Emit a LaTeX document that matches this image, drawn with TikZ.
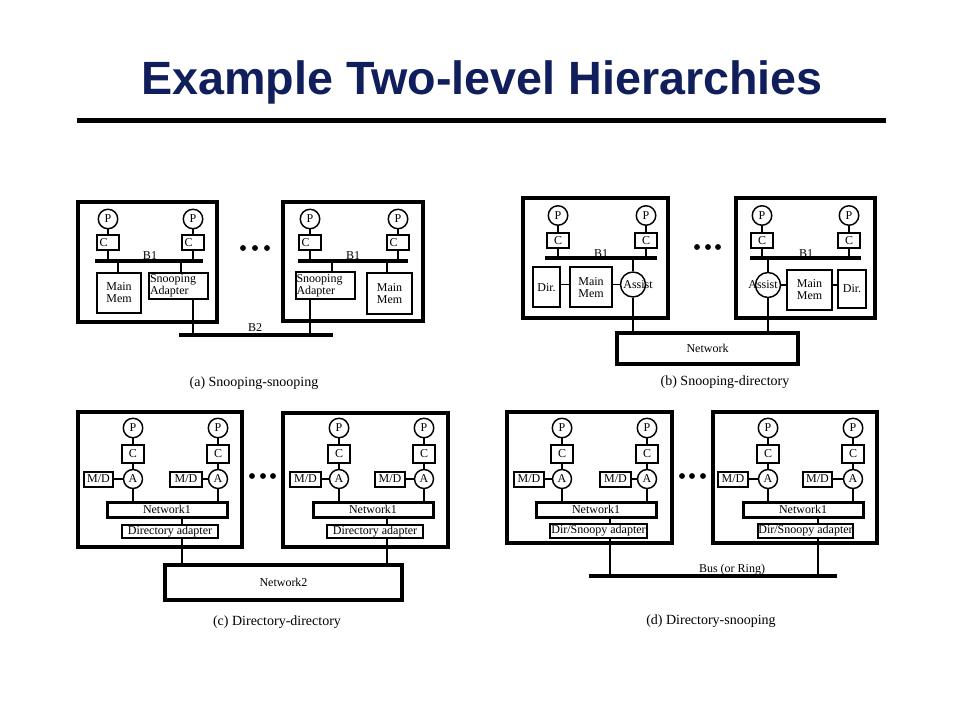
\documentclass[tikz,border=0pt]{standalone}
\usepackage{fontspec}
\setmainfont{Liberation Serif}
\newfontfamily\titlefont{Liberation Sans}
\usetikzlibrary{shapes.geometric}
\definecolor{titleblue}{RGB}{16,30,92}
\newcommand\px{*0.75pt}
\tikzset{
    module/.style={draw, line width=3pt},
    unit/.style={draw, line width=1.5pt},
    net/.style={draw, line width=2.6pt},
    netone/.style={draw, line width=2.25pt, minimum width=120\px, minimum height=15\px},
    proc/.style={circle, draw, line width=1.1pt, minimum size=19.5\px},
    cache/.style={unit, minimum width=22\px, minimum height=15\px},
    cachel/.style={cache, text width=17\px, align=left},
    agent/.style={circle, draw, line width=1.1pt, minimum size=19\px},
    assist/.style={circle, draw, line width=1.1pt, minimum size=25\px},
    wire/.style={line width=1.1pt},
    bus/.style={line width=3pt},
    caption/.style={anchor=base, font=\fontsize{10.5}{10.5}\selectfont}
}

\begin{document}
\begin{tikzpicture}[x=0.75pt, y=-0.75pt,
    every node/.style={inner sep=0pt, font=\fontsize{9}{9}\selectfont} ]
    \fill[white] (0,0) rectangle (960,720);
    \useasboundingbox (0,0) rectangle (960,720);

    \node[anchor=base, font=\titlefont\bfseries\fontsize{35}{35}\selectfont, text=titleblue] (title) at (482,95) {Example Two-level Hierarchies};
    \coordinate (ruleL) at (77,120.5);
    \coordinate (ruleR) at (886,120.5);
    \draw[line width=3.75pt] (ruleL) -- (ruleR);

    % (a)
    \node[module, minimum width=139\px, minimum height=120\px] (aL) at (147.5,262) {};
    \node[module, minimum width=140\px, minimum height=119\px] (aR) at (353,261.5) {};
    \coordinate (aLw) at (95,261);  \coordinate (aLe) at (203,261);
    \coordinate (aRw) at (298,261); \coordinate (aRe) at (408,261);
    \draw[bus] (aLw) -- (aLe);
    \draw[bus] (aRw) -- (aRe);
    \node[anchor=base] (aLb1) at (150,260) {B1};
    \node[anchor=base] (aRb1) at (353,260) {B1};
    \foreach \m/\xa/\xb in {aL/108/193, aR/310/398} {
        \node[proc] (\m p1) at (\xa,219) {P};
        \node[proc] (\m p2) at (\xb,219) {P};
        \node[cachel] (\m c1) at (\xa,243) {C};
        \node[cachel] (\m c2) at (\xb,243) {C};
        \draw[wire] (\m p1) -- (\m c1);
        \draw[wire] (\m p2) -- (\m c2);
        \draw[wire] (\m c1) -- (\m c1 |- \m w);
        \draw[wire] (\m c2) -- (\m c2 |- \m w);
    }
    \node[unit, minimum width=44\px, minimum height=40\px, align=center] (aLmem) at (119,293) {Main\\Mem};
    \node[unit, minimum width=59\px, minimum height=26\px, text width=57\px, align=left] (aLsnoop) at (178.5,286) {Snooping\\Adapter};
    \node[unit, minimum width=59\px, minimum height=27\px, text width=58\px, align=left] (aRsnoop) at (325.5,286) {Snooping\\Adapter};
    \node[unit, minimum width=45\px, minimum height=41\px, align=center] (aRmem) at (389.5,293.5) {Main\\Mem};
    \coordinate (aLt1) at (118,261); \coordinate (aLt2) at (181,261);
    \coordinate (aRt1) at (332,261); \coordinate (aRt2) at (387,261);
    \draw[wire] (aLt1) -- (aLt1 |- aLmem.north);
    \draw[wire] (aLt2) -- (aLt2 |- aLsnoop.north);
    \draw[wire] (aRt1) -- (aRt1 |- aRsnoop.north);
    \draw[wire] (aRt2) -- (aRt2 |- aRmem.north);
    \coordinate (aB2w) at (179,335); \coordinate (aB2e) at (333,335);
    \draw[line width=3.4pt] (aB2w) -- (aB2e);
    \draw[wire] (aLsnoop.south -| aLp2) -- (aLp2 |- aB2w);
    \draw[wire] (aRsnoop.south -| aRp1) -- (aRp1 |- aB2w);
    \node[anchor=base] (aB2) at (255,331) {B2};
    \foreach \x in {243,255,267} \fill (\x,248) circle (2.2pt);
    \node[caption] (capa) at (254,386) {(a) Snooping-snooping};

    % (b)
    \node[module, minimum width=145\px, minimum height=120\px] (bL) at (595.5,258) {};
    \node[module, minimum width=139\px, minimum height=120\px] (bR) at (805.5,258) {};
    \coordinate (bLw) at (545,258); \coordinate (bLe) at (657,258);
    \coordinate (bRw) at (750,258); \coordinate (bRe) at (861,258);
    \draw[bus] (bLw) -- (bLe);
    \draw[bus] (bRw) -- (bRe);
    \node[anchor=base] (bLb1) at (601,258) {B1};
    \node[anchor=base] (bRb1) at (806,258) {B1};
    \foreach \m/\xa/\xb in {bL/558/646, bR/762/849} {
        \node[proc] (\m p1) at (\xa,215.5) {P};
        \node[proc] (\m p2) at (\xb,215.5) {P};
        \node[cache] (\m c1) at (\xa,240.5) {C};
        \node[cache] (\m c2) at (\xb,240.5) {C};
        \draw[wire] (\m p1) -- (\m c1);
        \draw[wire] (\m p2) -- (\m c2);
        \draw[wire] (\m c1) -- (\m c1 |- \m w);
        \draw[wire] (\m c2) -- (\m c2 |- \m w);
    }
    \node[unit, minimum width=27\px, minimum height=40\px] (bLdir) at (546.5,287.5) {Dir.};
    \node[unit, minimum width=42\px, minimum height=40\px, align=center] (bLmem) at (591,287.5) {Main\\Mem};
    \node[assist, label={[xshift=3.75pt]center:Assist}] (bLassist) at (633,284.5) {};
    \node[assist, label={[xshift=-3.75pt]center:Assist}] (bRassist) at (768,285) {};
    \node[unit, minimum width=45\px, minimum height=40\px, align=center] (bRmem) at (809.5,290) {Main\\Mem};
    \node[unit, minimum width=28\px, minimum height=38\px] (bRdir) at (852,289) {Dir.};
    \node[net, minimum width=181\px, minimum height=31\px] (bnet) at (707.5,348.5) {Network};
    \draw[wire] (bLdir.east |- bLassist) -- (bLmem.west |- bLassist);
    \draw[wire] (bLmem.east |- bLassist) -- (bLassist);
    \draw[wire] (bRassist) -- (bRmem.west |- bRassist);
    \draw[wire] (bRmem.east |- bRassist) -- (bRdir.west |- bRassist);
    \foreach \m in {bL,bR} {
        \draw[wire] (\m assist) -- (\m assist |- \m w);
        \draw[wire] (\m assist) -- (\m assist |- bnet.north);
    }
    \foreach \x in {697,708,718} \fill (\x,247) circle (2.2pt);
    \node[caption] (capb) at (725,385) {(b) Snooping-directory};

    % (c) and (d)
    \node[module, minimum width=164\px, minimum height=135\px] (cL) at (160,479.5) {};
    \node[module, minimum width=165\px, minimum height=134\px] (cR) at (365.5,480) {};
    \node[module, minimum width=165\px, minimum height=131\px] (dL) at (589.5,477.5) {};
    \node[module, minimum width=164\px, minimum height=131\px] (dR) at (795,477.5) {};
    \foreach \m/\n/\x/\mx/\mw in {cL/1/133/98.5/29, cL/2/218/186/32, cR/1/339/305.5/31, cR/2/424/390/30,
                                  dL/1/562/529/30, dL/2/647/615.5/31, dR/1/768/733/30, dR/2/853/817.5/29} {
        \node[proc] (\m p\n) at (\x,428) {P};
        \node[unit, minimum width=22\px, minimum height=18\px] (\m c\n) at (\x,454) {C};
        \node[agent] (\m a\n) at (\x,479) {A};
        \node[unit, minimum width=\mw\px, minimum height=15\px] (\m md\n) at (\mx,479) {M/D};
        \draw[wire] (\m p\n) -- (\m c\n);
        \draw[wire] (\m c\n) -- (\m a\n);
        \draw[wire] (\m md\n) -- (\m a\n);
    }
    \foreach \m/\nx/\ax/\aw/\ay/\ah/\lx/\txt in {cL/167/170/96/531.5/13/182/Directory adapter,
                                               cR/373/375/96/531.5/13/387/Directory adapter,
                                               dL/596/598.5/97/531/14/610/{Dir/Snoopy adapter},
                                               dR/803/805.5/95/531/14/818/{Dir/Snoopy adapter}} {
        \node[netone] (\m net) at (\nx,509.5) {Network1};
        \node[unit, minimum width=\aw\px, minimum height=\ah\px] (\m adapt) at (\ax,\ay) {\txt};
        \coordinate (\m link) at (\lx,520);
        \draw[wire] (\m a1) -- (\m a1 |- \m net.north);
        \draw[wire] (\m a2) -- (\m a2 |- \m net.north);
        \draw[wire] (\m net.south -| \m link) -- (\m adapt.north -| \m link);
    }
    \node[net, minimum width=237\px, minimum height=35\px] (cnet2) at (283.5,582.5) {Network2};
    \draw[wire] (cLadapt.south -| cLlink) -- (cnet2.north -| cLlink);
    \draw[wire] (cRadapt.south -| cRlink) -- (cnet2.north -| cRlink);
    \coordinate (dbusw) at (589,576); \coordinate (dbuse) at (837,576);
    \draw[line width=3.2pt] (dbusw) -- (dbuse);
    \draw[wire] (dLadapt.south -| dLlink) -- (dLlink |- dbusw);
    \draw[wire] (dRadapt.south -| dRlink) -- (dRlink |- dbusw);
    \node[anchor=base] (dbus) at (732,572) {Bus (or Ring)};
    \foreach \x in {252,263,273} \fill (\x,476) circle (2.2pt);
    \foreach \x in {682,692,703} \fill (\x,476) circle (2.2pt);
    \node[caption] (capc) at (277,625) {(c) Directory-directory};
    \node[caption] (capd) at (711,624) {(d) Directory-snooping};
\end{tikzpicture}
\end{document}
